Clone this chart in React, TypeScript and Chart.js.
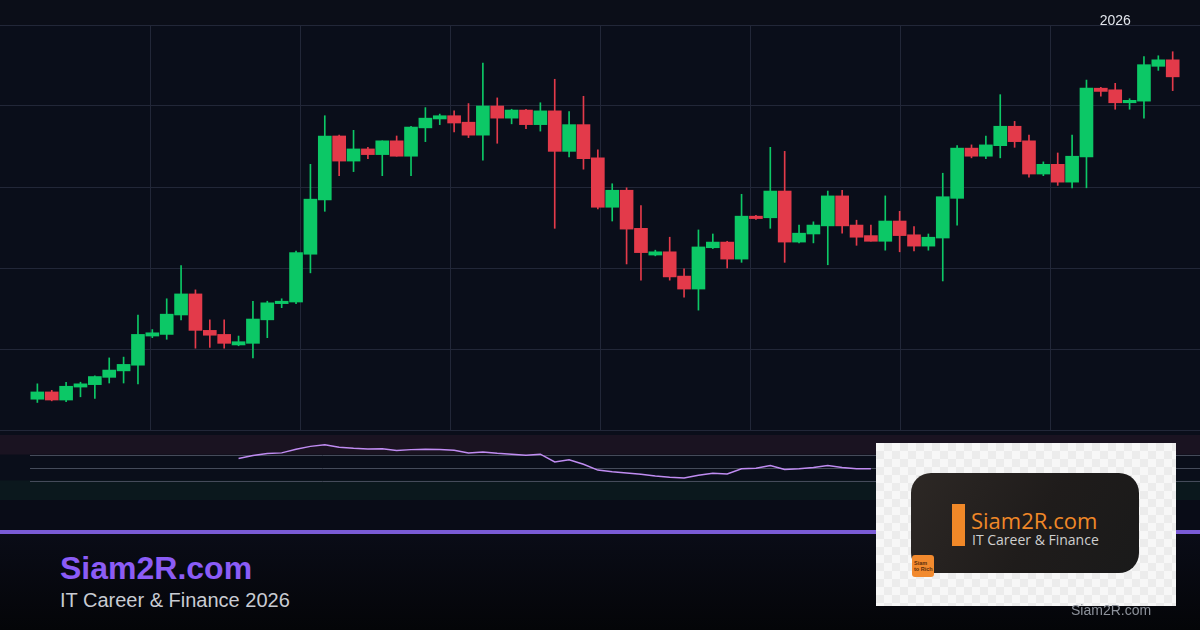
import React, { useEffect, useRef } from "react";
import { Chart, registerables } from "chart.js";

Chart.register(...registerables);

// ---- Candle data (arbitrary price units; grid every 100) ----
const opens = [
  38, 47, 37, 53, 56, 65, 73, 80, 116, 118,
  142, 168, 123, 118, 105, 107, 136, 156, 158, 217,
  284, 363, 332, 347, 340, 357, 338, 373, 384, 388,
  380, 364, 400, 385, 395, 377, 394, 344, 377, 336,
  275, 296, 249, 216, 220, 190, 174, 225, 232, 211,
  264, 262, 295, 232, 242, 252, 289, 253, 240, 233,
  258, 241, 227, 237, 286, 348, 338, 351, 375, 357,
  316, 328, 306, 337, 422, 420, 404, 406, 449, 457,
];
const highs = [
  57, 49, 59, 59, 67, 89, 90, 142, 124, 162,
  203, 173, 136, 136, 116, 159, 159, 162, 221, 328,
  388, 364, 370, 349, 357, 363, 375, 398, 390, 394,
  403, 453, 410, 396, 396, 404, 433, 393, 412, 346,
  304, 299, 277, 222, 238, 199, 247, 242, 233, 291,
  265, 349, 344, 253, 257, 295, 296, 259, 253, 289,
  270, 251, 242, 317, 351, 352, 363, 414, 381, 364,
  331, 342, 364, 432, 423, 428, 409, 461, 462, 467,
];
const lows = [
  34, 36, 35, 41, 39, 58, 58, 57, 114, 112,
  136, 101, 102, 101, 104, 89, 114, 151, 156, 194,
  270, 314, 319, 335, 314, 338, 314, 356, 377, 368,
  361, 333, 354, 378, 372, 369, 249, 337, 322, 273,
  258, 205, 185, 215, 185, 164, 148, 224, 200, 207,
  260, 249, 207, 231, 231, 204, 243, 228, 233, 222,
  220, 221, 222, 184, 253, 336, 335, 336, 349, 312,
  314, 302, 299, 299, 412, 396, 396, 385, 444, 419,
];
const closes = [
  47, 37, 54, 57, 66, 74, 81, 118, 120, 143,
  168, 123, 117, 107, 109, 137, 157, 159, 219, 285,
  363, 332, 347, 340, 357, 338, 374, 385, 388, 379,
  364, 400, 385, 395, 377, 394, 344, 377, 335, 275,
  296, 248, 219, 220, 189, 174, 226, 232, 211, 264,
  261, 295, 232, 243, 253, 289, 252, 238, 233, 258,
  240, 227, 238, 288, 348, 338, 352, 375, 356, 316,
  328, 306, 338, 422, 418, 404, 407, 451, 457, 436,
];

// RSI values (visible part), starting at candle index 14
const rsiStart = 14;
const rsiValues = [
  64, 68.5, 71.5, 72.5, 78, 82.5, 85, 81, 79.5, 78.5,
  79, 76, 77.5, 78, 77.7, 76.5, 72.5, 74, 72, 70.5,
  69, 70.5, 58.5, 62, 55, 46, 43.5, 41.5, 39.5, 37,
  35, 34, 38, 41, 40, 48, 49, 53, 47, 48,
  50, 53, 50, 48, 48,
];
const rsiLevels = [70, 50, 30];

const priceMin = 0;
const priceMax = 500;
const priceStep = 100;

const yearLabel = "2026";
const yearLabelIndex = 75;

const brandTitle = "Siam2R.com";
const brandSubtitle = "IT Career & Finance 2026";
const logoTitle = "Siam2R.com";
const logoSubtitle = "IT Career & Finance";
const watermark = "Siam2R.com";

// ---- styles ----
const GREEN = "#0cc866";
const RED = "#e33a4a";
const GRID = "#222738";
const BG = "#0a0e1a";
const X_MIN = -2.6;
const X_MAX = 80.9;

export default function App() {
  const mainRef = useRef<HTMLCanvasElement>(null);
  const rsiRef = useRef<HTMLCanvasElement>(null);

  useEffect(() => {
    const idx = opens.map((_, i) => i);
    const colors = idx.map((i) => (closes[i] >= opens[i] ? GREEN : RED));

    const yearPlugin = {
      id: "yearLabel",
      afterDraw(chart: any) {
        const ctx = chart.ctx;
        const x = chart.scales.x.getPixelForValue(yearLabelIndex);
        ctx.save();
        ctx.font = '14px "Liberation Sans", Arial, sans-serif';
        ctx.fillStyle = "#e2e5ec";
        ctx.textAlign = "center";
        ctx.textBaseline = "alphabetic";
        ctx.fillText(yearLabel, x, 25);
        ctx.restore();
      },
    };

    const main = new Chart(mainRef.current as HTMLCanvasElement, {
      type: "bar",
      data: {
        datasets: [
          {
            label: "body",
            data: idx.map((i) => ({ x: i, y: [opens[i], closes[i]] })) as any,
            backgroundColor: colors,
            borderWidth: 0,
            barThickness: 13,
            grouped: false,
            order: 0,
          } as any,
          {
            label: "wick",
            data: idx.map((i) => ({ x: i, y: [lows[i], highs[i]] })) as any,
            backgroundColor: colors,
            borderWidth: 0,
            barThickness: 1,
            grouped: false,
            order: 1,
          } as any,
        ],
      },
      options: {
        animation: false,
        responsive: false,
        maintainAspectRatio: false,
        layout: { padding: { top: 25, bottom: 2, left: 0, right: 0 } },
        plugins: { legend: { display: false }, tooltip: { enabled: false } },
        scales: {
          x: {
            type: "linear",
            min: X_MIN,
            max: X_MAX,
            offset: false,
            ticks: { display: false },
            grid: { color: GRID, drawTicks: false, lineWidth: 1, offset: false },
            border: { display: false },
            afterBuildTicks: (scale: any) => {
              scale.ticks = [1, 2, 3, 4, 5, 6, 7].map((k) => ({
                value: X_MIN + (k * (X_MAX - X_MIN)) / 8,
              }));
            },
          },
          y: {
            min: priceMin,
            max: priceMax,
            ticks: { display: false, stepSize: priceStep },
            grid: { color: GRID, drawTicks: false, lineWidth: 1 },
            border: { display: false },
          },
        },
      } as any,
      plugins: [yearPlugin],
    });

    const bandPlugin = {
      id: "rsiBands",
      beforeDatasetsDraw(chart: any) {
        const ctx = chart.ctx;
        const y = chart.scales.y;
        const w = chart.width;
        ctx.save();
        ctx.fillStyle = "#1a1321";
        ctx.fillRect(0, y.getPixelForValue(100), w, y.getPixelForValue(70) - y.getPixelForValue(100));
        ctx.fillStyle = "#0b181d";
        ctx.fillRect(0, y.getPixelForValue(30), w, y.getPixelForValue(0) - y.getPixelForValue(30));
        ctx.strokeStyle = "#454b5a";
        ctx.lineWidth = 1;
        rsiLevels.forEach((lv) => {
          const py = Math.round(y.getPixelForValue(lv)) + 0.5;
          ctx.beginPath();
          ctx.moveTo(30, py);
          ctx.lineTo(w, py);
          ctx.stroke();
        });
        ctx.restore();
      },
    };

    const rsi = new Chart(rsiRef.current as HTMLCanvasElement, {
      type: "line",
      data: {
        datasets: [
          {
            label: "RSI",
            data: rsiValues.map((v, k) => ({ x: rsiStart + k, y: v })),
            borderColor: "#c08cf2",
            borderWidth: 1.5,
            pointRadius: 0,
            tension: 0,
            fill: false,
          },
        ],
      },
      options: {
        animation: false,
        responsive: false,
        maintainAspectRatio: false,
        layout: { padding: { top: 5, bottom: 5, left: 0, right: 0 } },
        plugins: { legend: { display: false }, tooltip: { enabled: false } },
        scales: {
          x: {
            type: "linear",
            min: X_MIN,
            max: X_MAX,
            display: false,
          },
          y: { min: 0, max: 100, display: false },
        },
      } as any,
      plugins: [bandPlugin],
    });

    return () => {
      main.destroy();
      rsi.destroy();
    };
  }, []);

  const checker = {
    backgroundColor: "#f7f7f7",
    backgroundImage:
      "linear-gradient(45deg, #ececec 25%, transparent 25%, transparent 75%, #ececec 75%), linear-gradient(45deg, #ececec 25%, transparent 25%, transparent 75%, #ececec 75%)",
    backgroundSize: "16px 16px",
    backgroundPosition: "0 0, 8px 8px",
  };

  return (
    <div
      style={{
        position: "fixed",
        left: 0,
        top: 0,
        width: 1200,
        height: 630,
        overflow: "hidden",
        background: BG,
        fontFamily: '"Liberation Sans", Arial, sans-serif',
      }}
    >
      <div style={{ position: "absolute", left: 0, top: 0, width: 1200, height: 25, background: "#0b0e18" }} />
      <div style={{ position: "absolute", left: 0, top: 500, width: 1200, height: 30, background: "#090c17" }} />
      <div
        style={{
          position: "absolute",
          left: 0,
          top: 534,
          width: 1200,
          height: 96,
          background: "linear-gradient(#0a0c17, #040508)",
        }}
      />
      <canvas ref={mainRef} width={1200} height={432} style={{ position: "absolute", left: 0, top: 0 }} />
      <canvas ref={rsiRef} width={1200} height={75} style={{ position: "absolute", left: 0, top: 430 }} />
      <div style={{ position: "absolute", left: 0, top: 530, width: 1200, height: 4, background: "#7a5bd6" }} />

      <div
        style={{
          position: "absolute",
          left: 60,
          top: 552,
          fontSize: 32,
          lineHeight: 1,
          fontWeight: 700,
          color: "#8b5cf6",
          whiteSpace: "nowrap",
        }}
      >
        {brandTitle}
      </div>
      <div
        style={{
          position: "absolute",
          left: 60,
          top: 590,
          fontSize: 20,
          lineHeight: 1,
          color: "#c9ccd3",
          whiteSpace: "nowrap",
        }}
      >
        {brandSubtitle}
      </div>

      {/* logo card */}
      <div style={{ position: "absolute", left: 876, top: 443, width: 300, height: 163, ...checker }}>
        <div
          style={{
            position: "absolute",
            left: 35,
            top: 30,
            width: 228,
            height: 100,
            borderRadius: 20,
            background: "linear-gradient(120deg, #2d2825 0%, #1f1c1b 55%, #1a1a1a 100%)",
          }}
        >
          <div style={{ position: "absolute", left: 41, top: 31, width: 13, height: 42, background: "#f08828" }} />
          <div
            style={{
              position: "absolute",
              left: 60,
              top: 36,
              fontFamily: '"Open Sans", sans-serif',
              fontWeight: 500,
              fontSize: 22,
              lineHeight: 1,
              color: "#f08828",
              whiteSpace: "nowrap",
            }}
          >
            {logoTitle}
          </div>
          <div
            style={{
              position: "absolute",
              left: 61,
              top: 60,
              fontFamily: '"Open Sans", sans-serif',
              fontSize: 14,
              lineHeight: 1,
              color: "#cfcfcf",
              whiteSpace: "nowrap",
            }}
          >
            {logoSubtitle}
          </div>
          <div
            style={{
              position: "absolute",
              left: 1,
              top: 82,
              width: 22,
              height: 22,
              borderRadius: 3,
              background: "#f28a2e",
              color: "#5a2d0c",
              fontSize: 5.5,
              fontWeight: 700,
              lineHeight: 1.05,
              padding: "6px 0 0 2px",
              boxSizing: "border-box",
            }}
          >
            <div>Siam</div>
            <div>to Rich</div>
          </div>
        </div>
      </div>
      <div
        style={{
          position: "absolute",
          left: 1071,
          top: 603,
          fontSize: 14,
          lineHeight: 1,
          color: "#8d929b",
          whiteSpace: "nowrap",
        }}
      >
        {watermark}
      </div>
    </div>
  );
}
